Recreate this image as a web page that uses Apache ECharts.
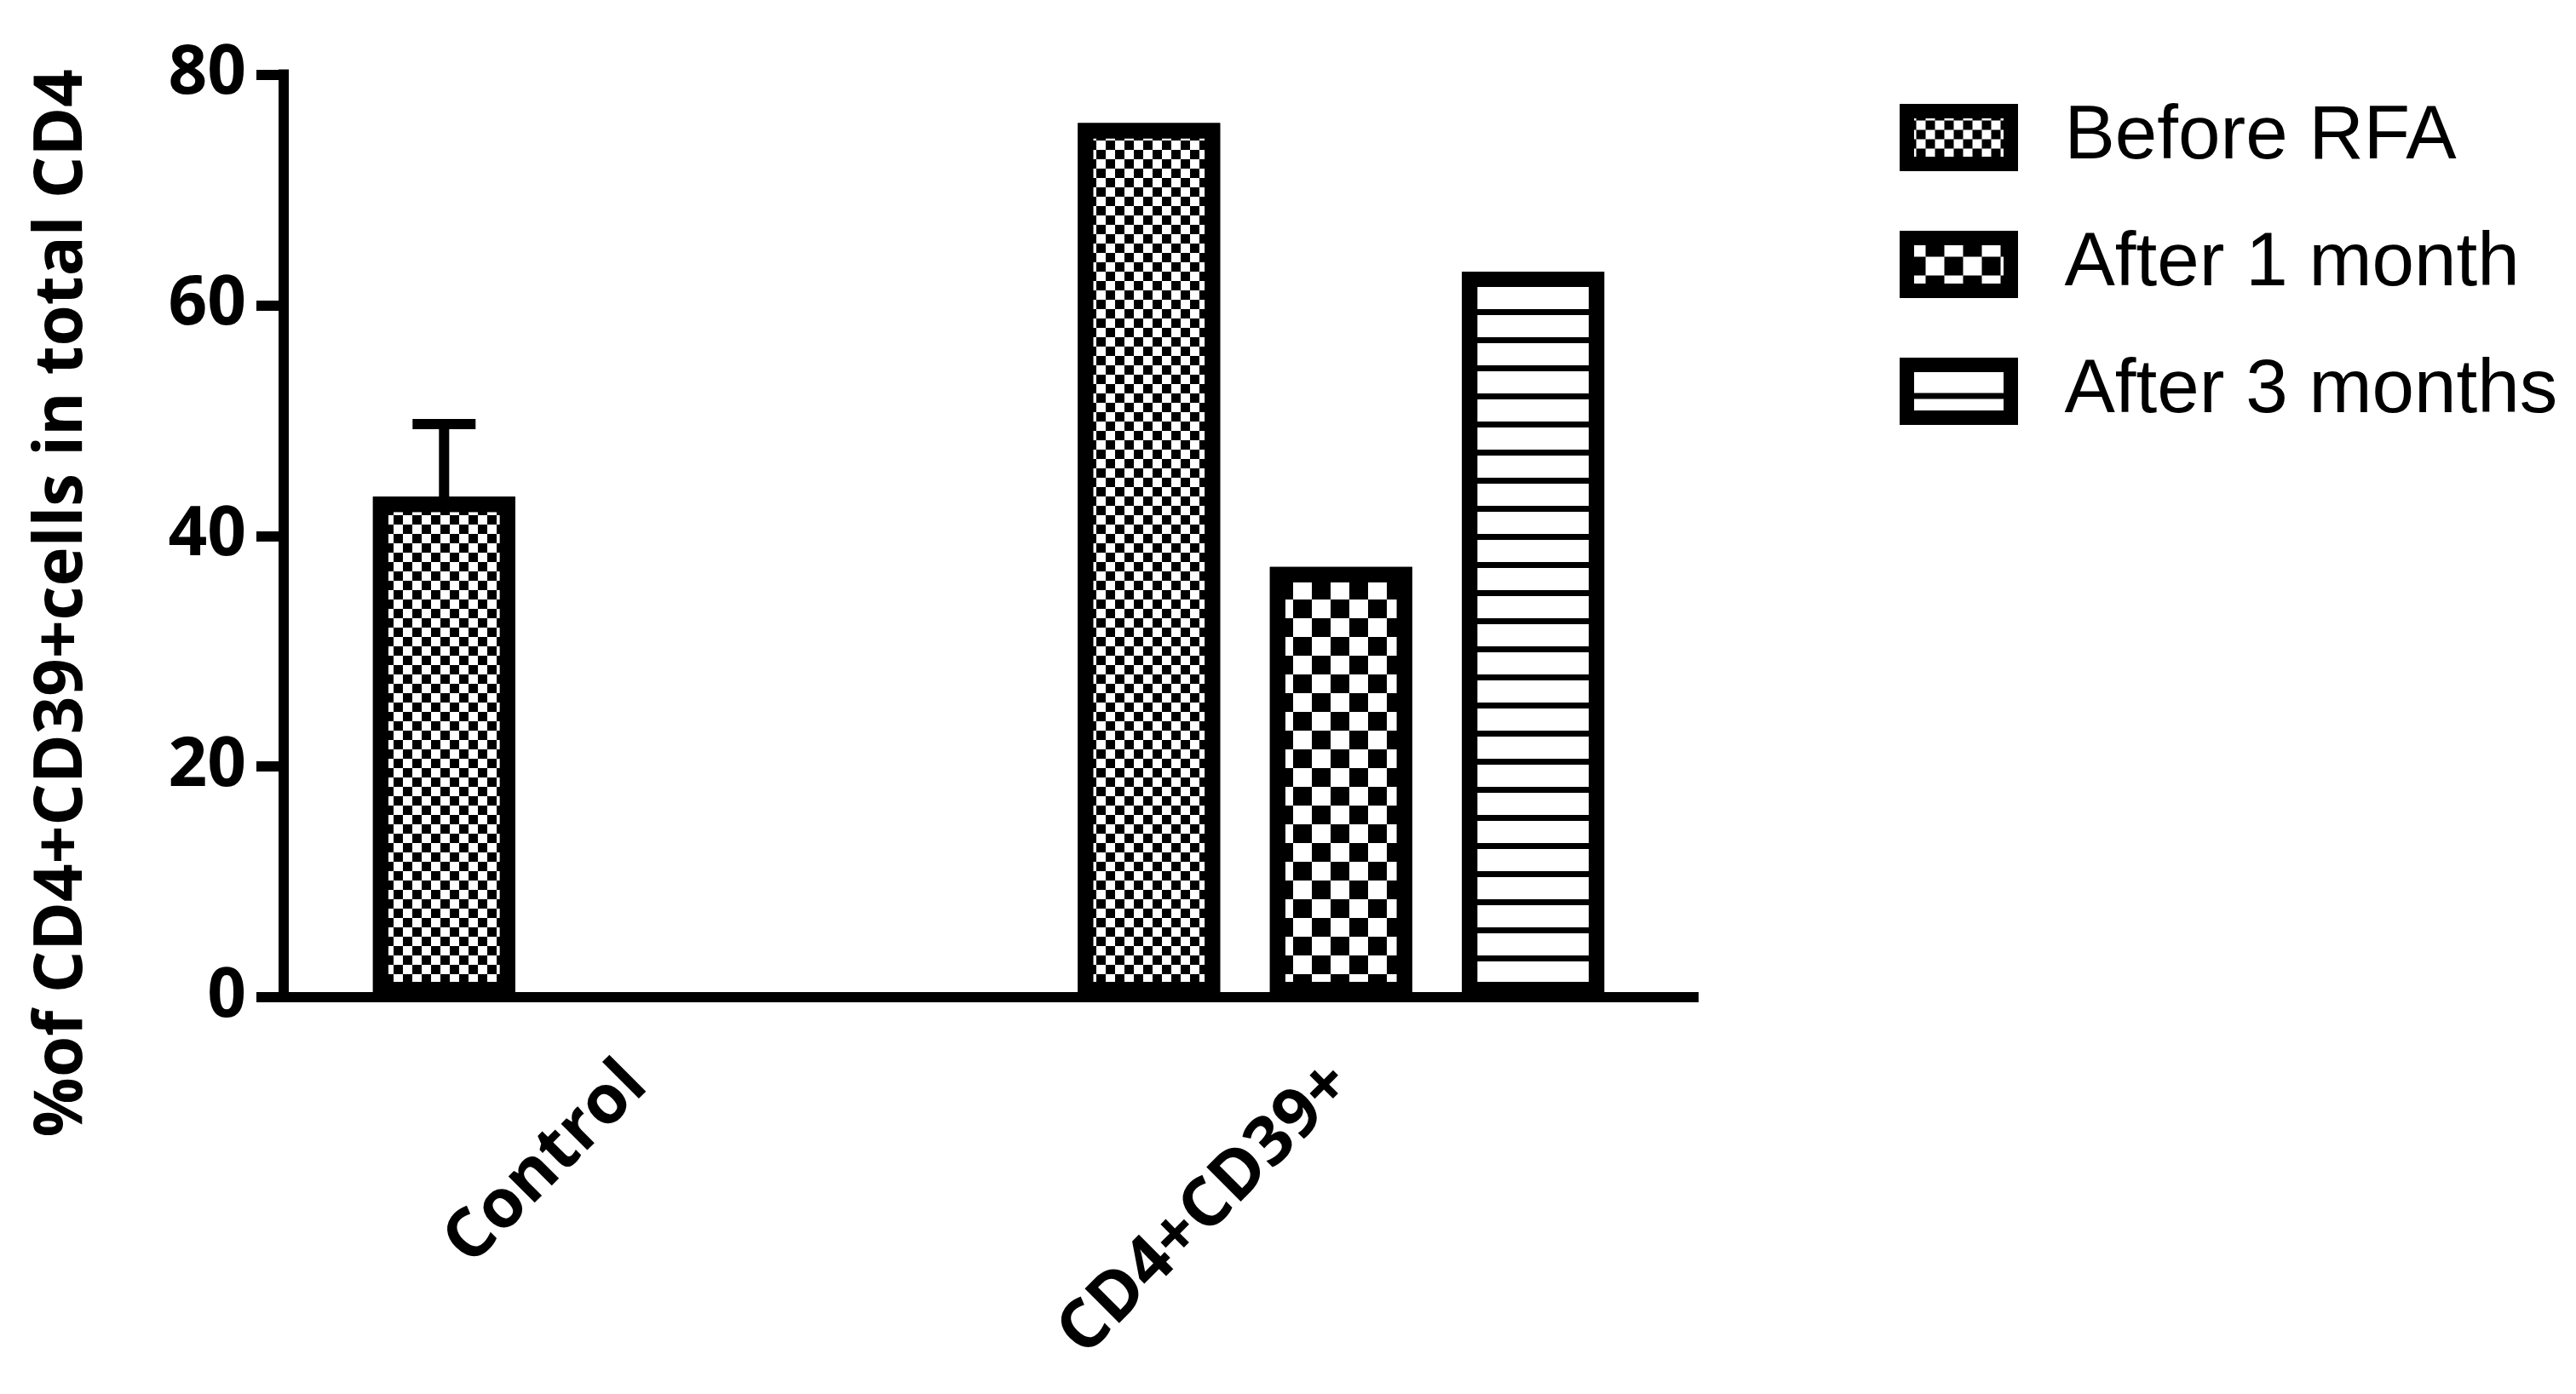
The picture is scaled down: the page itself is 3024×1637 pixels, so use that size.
<!DOCTYPE html>
<html>
<head>
<meta charset="utf-8">
<script src="https://cdn.jsdelivr.net/npm/echarts@6/dist/echarts.min.js"></script>
<style>
html,body{margin:0;padding:0;background:#fff;}
#chart{width:3024px;height:1637px;}
</style>
</head>
<body>
<div id="chart"></div>
<script>
// ---- data ----
const categories = ['Control', 'CD4+CD39+'];
const seriesNames = ['Before RFA', 'After 1 month', 'After 3 months'];
const beforeRFA = [43.4, 75.8];
const after1Month = [null, 37.3];
const after3Months = [null, 62.9];
const controlErrorUpper = [6.3];        // SD above the Control bar
const yTicks = [0, 20, 40, 60, 80];
const yTitle = '%of CD4+CD39+cells in total CD4';

// ---- styling ----
const BAR_W = 167;
const GAP_RATIO = 0.35;
const BORDER = 18;
const FONT_B = 'Open Sans';
const FONT_L = 'Liberation Sans';

const decals = [
  { symbol: 'rect', symbolSize: 1, color: '#000', dashArrayX: [[11, 11], [0, 11, 11, 0]], dashArrayY: [11, 0] },
  { symbol: 'rect', symbolSize: 1, color: '#000', dashArrayX: [[22, 22], [0, 22, 22, 0]], dashArrayY: [22, 0] },
  { symbol: 'rect', symbolSize: 1, color: '#000', dashArrayX: [1, 0], dashArrayY: [7, 26] }
];
const values = [beforeRFA, after1Month, after3Months];

const barSeries = seriesNames.map((name, i) => ({
  name: name,
  type: 'bar',
  barWidth: BAR_W,
  barGap: (GAP_RATIO * 100) + '%',
  data: values[i].map(v => v == null ? '-' : v),
  itemStyle: { color: '#fff', borderColor: '#000', borderWidth: BORDER, decal: decals[i] },
  z: 2
}));

const errData = controlErrorUpper.map((e, i) => [i, beforeRFA[i], e]);

const errSeries = {
  type: 'custom',
  name: 'err',
  coordinateSystem: 'cartesian2d',
  z: 1,
  data: errData,
  renderItem: function (params, api) {
    const cat = api.value(0), base = api.value(1), err = api.value(2);
    const p0 = api.coord([cat, base]);
    const p1 = api.coord([cat, base + err]);
    const x = p0[0] - BAR_W * (1 + GAP_RATIO);
    const capHalf = 37;
    return {
      type: 'group',
      children: [
        { type: 'line', shape: { x1: x, y1: p0[1] + 4, x2: x, y2: p1[1] }, style: { stroke: '#000', lineWidth: 12 } },
        { type: 'line', shape: { x1: x - capHalf, y1: p1[1], x2: x + capHalf, y2: p1[1] }, style: { stroke: '#000', lineWidth: 12 } }
      ]
    };
  }
};

const chart = echarts.init(document.getElementById('chart'), null, { renderer: 'canvas' });
chart.setOption({
  animation: false,
  backgroundColor: '#fff',
  grid: { left: 333, right: 1036, top: 87.5, bottom: 466, containLabel: false },
  legend: {
    data: seriesNames,
    orient: 'vertical',
    left: 2225,
    top: 112,
    itemWidth: 122,
    itemHeight: 62,
    itemGap: 60,
    icon: 'rect',
    itemStyle: { borderColor: '#000', borderWidth: 17 },
    textStyle: { fontFamily: FONT_L, fontSize: 89, color: '#000', lineHeight: 58, padding: [0, 0, 0, 58] }
  },
  xAxis: {
    type: 'category',
    data: categories,
    axisLine: { lineStyle: { color: '#000', width: 12, cap: 'square' } },
    axisTick: { alignWithLabel: true, length: 31, lineStyle: { color: '#000', width: 12 } },
    axisLabel: { rotate: 45, margin: 90, fontFamily: FONT_B, fontWeight: 'bold', fontSize: 80, color: '#000', interval: 0 },
    splitLine: { show: false }
  },
  yAxis: {
    type: 'value',
    min: yTicks[0],
    max: yTicks[yTicks.length - 1],
    interval: yTicks[1] - yTicks[0],
    name: yTitle,
    nameLocation: 'middle',
    nameRotate: 90,
    nameGap: 220,
    nameTextStyle: { fontFamily: FONT_B, fontWeight: 'bold', fontSize: 78, color: '#000', padding: [0, 158, 0, 0] },
    axisLine: { show: true, lineStyle: { color: '#000', width: 12, cap: 'square' } },
    axisTick: { show: true, length: 32, lineStyle: { color: '#000', width: 12 } },
    axisLabel: { margin: 44, fontFamily: FONT_B, fontWeight: 'bold', fontSize: 80, color: '#000' },
    splitLine: { show: false }
  },
  series: barSeries.concat([errSeries])
});
</script>
</body>
</html>
